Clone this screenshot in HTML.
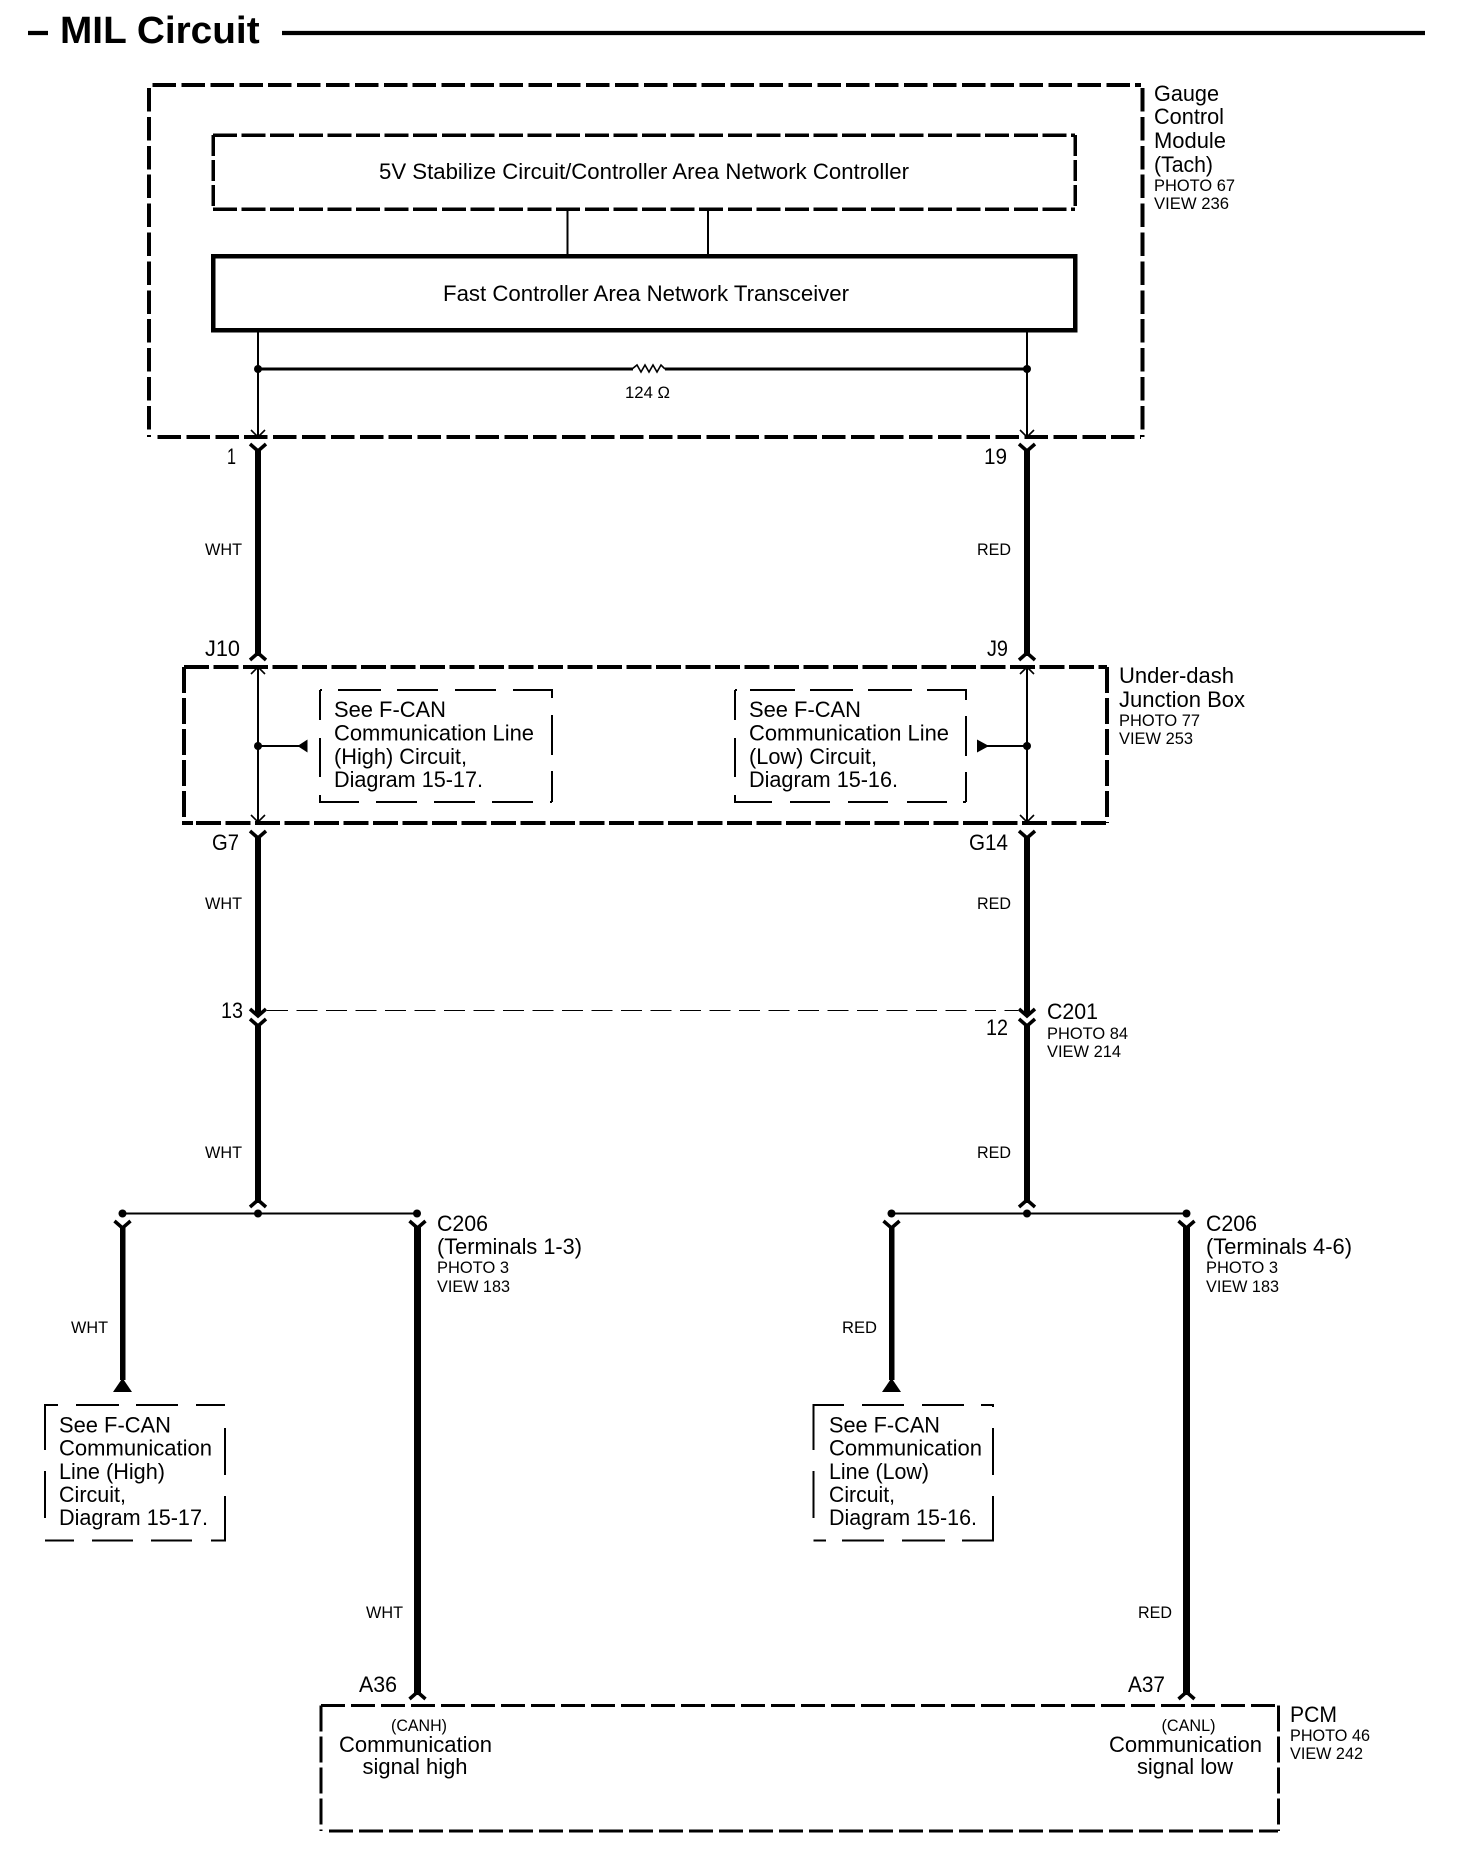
<!DOCTYPE html>
<html><head><meta charset="utf-8"><title>MIL Circuit</title>
<style>
html,body{margin:0;padding:0;background:#fff}
svg{display:block}
text{font-family:"Liberation Sans",Arial,sans-serif;fill:#000;font-size:22px;transform:translateX(-1px)}
.s{font-size:16.5px}
.t{font-size:38px;font-weight:bold}
.k{stroke:#000;fill:none}
</style></head><body>
<svg xmlns="http://www.w3.org/2000/svg" width="1472" height="1852" viewBox="0 0 1472 1852">
<defs>
<path id="y" class="k" stroke-width="3.5" d="M-8 0L0 7L8 0"/>
<path id="u" class="k" stroke-width="3.5" d="M-8 7L0 0L8 7"/>
<path id="ad" class="k" stroke-width="1.6" d="M-7 -7L0 0L7 -7"/>
<path id="au" class="k" stroke-width="1.6" d="M-7 7L0 0L7 7"/>
</defs>
<rect width="1472" height="1852" fill="#fff"/>

<!-- title -->
<path class="k" stroke-width="4.3" d="M28 33H48M282 33H1425"/>
<text class="t" x="61" y="43" textLength="199.600" lengthAdjust="spacingAndGlyphs">MIL Circuit</text>

<!-- gauge control module -->
<g class="k" stroke-width="3.8" stroke-dasharray="23.5 5.4" shape-rendering="crispEdges">
<path d="M152.6 85H1141"/><path d="M157.5 437H1141"/>
<path d="M149 88V437"/><path d="M1142.500 88V437"/>
</g>
<g class="k" stroke-width="3.5" stroke-dasharray="24 4.6" shape-rendering="crispEdges">
<path d="M213 135H1075"/><path d="M213 209H1075"/>
</g>
<g class="k" stroke-width="3.5" stroke-dasharray="21 4" shape-rendering="crispEdges">
<path d="M213 135V209"/><path d="M1075 135V209"/>
</g>
<rect class="k" x="213" y="256" width="862" height="74" stroke-width="4.5" shape-rendering="crispEdges"/>
<path class="k" stroke-width="2" d="M567.5 209V256M708 209V256" shape-rendering="crispEdges"/>
<text x="380" y="179" textLength="530" lengthAdjust="spacingAndGlyphs">5V Stabilize Circuit/Controller Area Network Controller</text>
<text x="444" y="301" textLength="406" lengthAdjust="spacingAndGlyphs">Fast Controller Area Network Transceiver</text>
<path class="k" stroke-width="1.8" d="M258 330V437M1027 330V437" shape-rendering="crispEdges"/>
<path class="k" stroke-width="3" d="M258 369H633M665 369H1027" shape-rendering="crispEdges"/>
<path class="k" stroke-width="1.6" d="M632 369L637 365L641 372L645 365L649 372L653 365L657 372L661 365L665 369"/>
<circle cx="258" cy="369" r="4"/><circle cx="1027" cy="369" r="4"/>
<text class="s" x="626" y="398" textLength="45" lengthAdjust="spacingAndGlyphs">124 Ω</text>
<use href="#ad" x="258" y="437"/><use href="#ad" x="1027" y="437"/>
<text x="1155" y="101" textLength="65" lengthAdjust="spacingAndGlyphs">Gauge</text>
<text x="1155" y="124" textLength="70" lengthAdjust="spacingAndGlyphs">Control</text>
<text x="1155" y="148" textLength="72" lengthAdjust="spacingAndGlyphs">Module</text>
<text x="1155" y="172" textLength="59" lengthAdjust="spacingAndGlyphs">(Tach)</text>
<text class="s" x="1155" y="191" textLength="81" lengthAdjust="spacingAndGlyphs">PHOTO 67</text>
<text class="s" x="1155" y="209" textLength="75" lengthAdjust="spacingAndGlyphs">VIEW 236</text>

<!-- wires row 1 -->
<path class="k" stroke-width="6" d="M258 450V656M1027 450V656" shape-rendering="crispEdges"/>
<use href="#y" x="258" y="444"/><use href="#y" x="1027" y="444"/>
<use href="#u" x="258" y="653"/><use href="#u" x="1027" y="653"/>
<text x="228" y="464" textLength="9" lengthAdjust="spacingAndGlyphs">1</text>
<text x="985" y="464" textLength="23" lengthAdjust="spacingAndGlyphs">19</text>
<text class="s" x="206" y="555" textLength="37" lengthAdjust="spacingAndGlyphs">WHT</text>
<text class="s" x="978" y="555" textLength="34" lengthAdjust="spacingAndGlyphs">RED</text>
<text x="206" y="656" textLength="35" lengthAdjust="spacingAndGlyphs">J10</text>
<text x="988" y="656" textLength="21" lengthAdjust="spacingAndGlyphs">J9</text>

<!-- junction box -->
<g class="k" stroke-width="3.8" stroke-dasharray="25 4.5" shape-rendering="crispEdges">
<path d="M184 667H1107"/><path d="M196 823H1107"/>
</g>
<path class="k" stroke-width="3.8" d="M184 821V823H193" shape-rendering="crispEdges"/>
<g class="k" stroke-width="3.8" stroke-dasharray="26 5" shape-rendering="crispEdges">
<path d="M184 667V823"/><path d="M1107 667V823"/>
</g>
<path class="k" stroke-width="1.8" d="M258 667V822M1027 667V822" shape-rendering="crispEdges"/>
<use href="#au" x="258" y="667"/><use href="#au" x="1027" y="667"/>
<use href="#ad" x="258" y="822"/><use href="#ad" x="1027" y="822"/>
<circle cx="258" cy="746" r="4"/><circle cx="1027" cy="746" r="4"/>
<path class="k" stroke-width="2" d="M258 746H300M985 746H1027" shape-rendering="crispEdges"/>
<path d="M297.500 746L307.500 739.500V752.500Z"/>
<path d="M989 746L977 739.500V752.500Z"/>
<!-- high note box -->
<g class="k" stroke-width="1.8" shape-rendering="crispEdges">
<path d="M320 690H322M338 690H381M397 690H438M455 690H496M513 690H552V698"/>
<path d="M320 690V720M320 738V777M320 795V802H359M376 802H417M434 802H475M492 802H533M550 802H552"/>
<path d="M552 715V755M552 771V802"/>
</g>
<text x="335" y="717" textLength="112" lengthAdjust="spacingAndGlyphs">See F-CAN</text>
<text x="335" y="740.500" textLength="200" lengthAdjust="spacingAndGlyphs">Communication Line</text>
<text x="335" y="764" textLength="133" lengthAdjust="spacingAndGlyphs">(High) Circuit,</text>
<text x="335" y="787" textLength="149" lengthAdjust="spacingAndGlyphs">Diagram 15-17.</text>
<!-- low note box -->
<g class="k" stroke-width="1.8" shape-rendering="crispEdges">
<path d="M735 690H737M750 690H795M810 690H853M868 690H912M927 690H966V700"/>
<path d="M735 690V720M735 738V777M735 795V802H772M790 802H830M848 802H888M907 802H947M963 802H966"/>
<path d="M966 716V756M966 772V802"/>
</g>
<text x="750" y="717" textLength="112" lengthAdjust="spacingAndGlyphs">See F-CAN</text>
<text x="750" y="740.500" textLength="200" lengthAdjust="spacingAndGlyphs">Communication Line</text>
<text x="750" y="764" textLength="128" lengthAdjust="spacingAndGlyphs">(Low) Circuit,</text>
<text x="750" y="787" textLength="149" lengthAdjust="spacingAndGlyphs">Diagram 15-16.</text>
<text x="1120" y="683" textLength="115" lengthAdjust="spacingAndGlyphs">Under-dash</text>
<text x="1120" y="707" textLength="126" lengthAdjust="spacingAndGlyphs">Junction Box</text>
<text class="s" x="1120" y="726" textLength="81" lengthAdjust="spacingAndGlyphs">PHOTO 77</text>
<text class="s" x="1120" y="744" textLength="74" lengthAdjust="spacingAndGlyphs">VIEW 253</text>

<!-- wires row 2 -->
<path class="k" stroke-width="6" d="M258 836V1015M1027 836V1015M258 1024V1203M1027 1024V1203" shape-rendering="crispEdges"/>
<use href="#y" x="258" y="831"/><use href="#y" x="1027" y="831"/>
<use href="#y" x="258" y="1009"/><use href="#y" x="1027" y="1009"/>
<use href="#y" x="258" y="1019"/><use href="#y" x="1027" y="1019"/>
<use href="#u" x="258" y="1200"/><use href="#u" x="1027" y="1200"/>
<text x="213" y="850" textLength="27" lengthAdjust="spacingAndGlyphs">G7</text>
<text x="970" y="850" textLength="39" lengthAdjust="spacingAndGlyphs">G14</text>
<text class="s" x="206" y="909" textLength="37" lengthAdjust="spacingAndGlyphs">WHT</text>
<text class="s" x="978" y="909" textLength="34" lengthAdjust="spacingAndGlyphs">RED</text>
<path stroke="#000" fill="none" stroke-width="1" stroke-dasharray="21 8.500" d="M267 1010.500H1018" shape-rendering="crispEdges"/>
<text x="222" y="1018" textLength="22" lengthAdjust="spacingAndGlyphs">13</text>
<text x="987" y="1035" textLength="22" lengthAdjust="spacingAndGlyphs">12</text>
<text x="1048" y="1019" textLength="51" lengthAdjust="spacingAndGlyphs">C201</text>
<text class="s" x="1048" y="1039" textLength="81" lengthAdjust="spacingAndGlyphs">PHOTO 84</text>
<text class="s" x="1048" y="1057" textLength="74" lengthAdjust="spacingAndGlyphs">VIEW 214</text>
<text class="s" x="206" y="1158" textLength="37" lengthAdjust="spacingAndGlyphs">WHT</text>
<text class="s" x="978" y="1158" textLength="34" lengthAdjust="spacingAndGlyphs">RED</text>

<!-- splices -->
<path class="k" stroke-width="2" d="M122.500 1213.500H417M891.500 1213.500H1186.500" shape-rendering="crispEdges"/>
<circle cx="122.500" cy="1213.500" r="4"/><circle cx="258" cy="1213.500" r="4"/><circle cx="417" cy="1213.500" r="4"/>
<circle cx="891.500" cy="1213.500" r="4"/><circle cx="1027" cy="1213.500" r="4"/><circle cx="1186.500" cy="1213.500" r="4"/>
<use href="#y" x="122.500" y="1221"/><use href="#y" x="417.500" y="1221"/>
<use href="#y" x="891.500" y="1221"/><use href="#y" x="1186.500" y="1221"/>
<path class="k" stroke-width="5.500" d="M122.500 1226V1380M891.500 1226V1380" shape-rendering="crispEdges"/>
<path class="k" stroke-width="7" d="M417.500 1226V1695M1186.500 1226V1695" shape-rendering="crispEdges"/>
<path d="M122.500 1378L132 1392H113Z"/><path d="M891.500 1378L901 1392H882Z"/>
<use href="#u" x="417.500" y="1692"/><use href="#u" x="1186.500" y="1692"/>

<text x="438" y="1231" textLength="51" lengthAdjust="spacingAndGlyphs">C206</text>
<text x="438" y="1254" textLength="145" lengthAdjust="spacingAndGlyphs">(Terminals 1-3)</text>
<text class="s" x="438" y="1273" textLength="72" lengthAdjust="spacingAndGlyphs">PHOTO 3</text>
<text class="s" x="438" y="1292" textLength="73" lengthAdjust="spacingAndGlyphs">VIEW 183</text>
<text x="1207" y="1231" textLength="51" lengthAdjust="spacingAndGlyphs">C206</text>
<text x="1207" y="1254" textLength="146" lengthAdjust="spacingAndGlyphs">(Terminals 4-6)</text>
<text class="s" x="1207" y="1273" textLength="72" lengthAdjust="spacingAndGlyphs">PHOTO 3</text>
<text class="s" x="1207" y="1292" textLength="73" lengthAdjust="spacingAndGlyphs">VIEW 183</text>
<text class="s" x="72" y="1333" textLength="37" lengthAdjust="spacingAndGlyphs">WHT</text>
<text class="s" x="843" y="1333" textLength="35" lengthAdjust="spacingAndGlyphs">RED</text>
<text class="s" x="367" y="1618" textLength="37" lengthAdjust="spacingAndGlyphs">WHT</text>
<text class="s" x="1139" y="1618" textLength="34" lengthAdjust="spacingAndGlyphs">RED</text>

<!-- lower note left -->
<g class="k" stroke-width="2" shape-rendering="crispEdges">
<path d="M45 1450V1405H58M76 1405H119M136 1405H178M196 1405H225"/>
<path d="M45 1471V1518M45 1540.500H74M92 1540.500H133M151 1540.500H192M211 1540.500H225V1496"/>
<path d="M225 1428V1475"/>
</g>
<text x="60" y="1432.500" textLength="112" lengthAdjust="spacingAndGlyphs">See F-CAN</text>
<text x="60" y="1455.500" textLength="153" lengthAdjust="spacingAndGlyphs">Communication</text>
<text x="60" y="1479" textLength="106" lengthAdjust="spacingAndGlyphs">Line (High)</text>
<text x="60" y="1502" textLength="67" lengthAdjust="spacingAndGlyphs">Circuit,</text>
<text x="60" y="1525" textLength="149" lengthAdjust="spacingAndGlyphs">Diagram 15-17.</text>
<!-- lower note right -->
<g class="k" stroke-width="2" shape-rendering="crispEdges">
<path d="M813.500 1450V1405H844M862 1405H904M922 1405H964M981 1405H993V1407"/>
<path d="M813.500 1471V1518M813.500 1540.500H826M842 1540.500H884M902 1540.500H945M962 1540.500H993V1496"/>
<path d="M993 1428V1475"/>
</g>
<text x="830" y="1432.500" textLength="111" lengthAdjust="spacingAndGlyphs">See F-CAN</text>
<text x="830" y="1455.500" textLength="153" lengthAdjust="spacingAndGlyphs">Communication</text>
<text x="830" y="1479" textLength="100" lengthAdjust="spacingAndGlyphs">Line (Low)</text>
<text x="830" y="1502" textLength="66" lengthAdjust="spacingAndGlyphs">Circuit,</text>
<text x="830" y="1525" textLength="148" lengthAdjust="spacingAndGlyphs">Diagram 15-16.</text>

<!-- PCM -->
<g class="k" stroke-width="3.200" stroke-dasharray="24 6" shape-rendering="crispEdges">
<path d="M321 1705.500H1278"/><path d="M329 1831H1278"/>
</g>
<g class="k" stroke-width="3.200" stroke-dasharray="26 5" shape-rendering="crispEdges">
<path d="M321 1705.500V1831"/><path d="M1278.500 1705.500V1831"/>
</g>
<text x="360" y="1692" textLength="38" lengthAdjust="spacingAndGlyphs">A36</text>
<text x="1129" y="1692" textLength="37" lengthAdjust="spacingAndGlyphs">A37</text>
<text class="s" x="392" y="1731" textLength="56" lengthAdjust="spacingAndGlyphs">(CANH)</text>
<text x="340" y="1752" textLength="153" lengthAdjust="spacingAndGlyphs">Communication</text>
<text x="363.500" y="1774" textLength="105" lengthAdjust="spacingAndGlyphs">signal high</text>
<text class="s" x="1162.500" y="1731" textLength="54" lengthAdjust="spacingAndGlyphs">(CANL)</text>
<text x="1110" y="1752" textLength="153" lengthAdjust="spacingAndGlyphs">Communication</text>
<text x="1138" y="1774" textLength="96" lengthAdjust="spacingAndGlyphs">signal low</text>
<text x="1291" y="1722" textLength="47" lengthAdjust="spacingAndGlyphs">PCM</text>
<text class="s" x="1291" y="1741" textLength="80" lengthAdjust="spacingAndGlyphs">PHOTO 46</text>
<text class="s" x="1291" y="1759" textLength="73" lengthAdjust="spacingAndGlyphs">VIEW 242</text>
</svg>
</body></html>
